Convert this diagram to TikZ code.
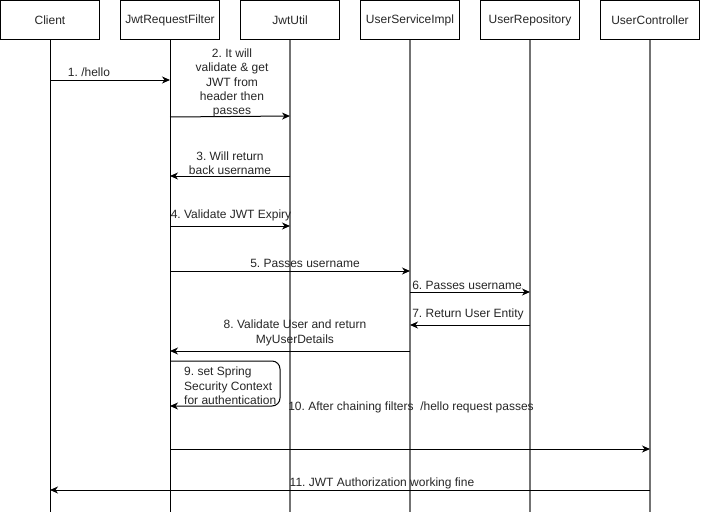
\documentclass[tikz,border=0pt]{standalone}
\usepackage{fontspec}
\setmainfont{Liberation Sans}
\usetikzlibrary{arrows.meta}
\frenchspacing
\begin{document}
\begin{tikzpicture}[x=1pt,y=-1pt,
  txt/.style={font=\fontsize{12}{14.4}\selectfont, text=black!85},
  actor/.style={txt, draw, line width=0.9pt, minimum width=99pt, minimum height=39pt, inner sep=0pt},
  lifeA/.style={line width=1pt, black},
  lifeB/.style={line width=1.2pt, black!55},
  msg/.style={line width=1pt, -{Stealth[length=8pt,width=7pt,inset=2.5pt]}},
  lbl/.style={txt, align=center, inner sep=0pt}
]
\useasboundingbox (0,0) rectangle (701,512);
% actors
\node[actor] (client) at (50,20) {Client};
\node[actor] (filter) at (170,20) {JwtRequestFilter};
\node[actor] (jwt)    at (290,20) {JwtUtil};
\node[actor] (svc)    at (410,20) {UserServiceImpl};
\node[actor] (repo)   at (530,20) {UserRepository};
\node[actor] (ctrl)   at (650,20) {UserController};
% lifelines
\coordinate (clientEnd) at (50,512);
\coordinate (filterEnd) at (170,512);
\coordinate (jwtEnd) at (290,512);
\coordinate (svcEnd) at (410,512);
\coordinate (repoEnd) at (530,512);
\coordinate (ctrlEnd) at (650,512);
\draw[lifeA] (client.south) -- (clientEnd);
\draw[lifeA] (filter.south) -- (filterEnd);
\draw[lifeB] (jwt.south) -- (jwtEnd);
\draw[lifeB] (svc.south) -- (svcEnd);
\draw[lifeB] (repo.south) -- (repoEnd);
\draw[lifeB] (ctrl.south) -- (ctrlEnd);
% 1
\draw[msg] (client |- 0,80) -- (filter |- 0,80);
\node[lbl] (l1) at (89,72) {1. /hello};
% 2
\draw[msg] (filter |- 0,117) -- (jwt |- 0,116);
\node[lbl] (l2) at (232,83) {2. It will\\validate \& get\\JWT from\\header then\\passes};
% 3
\draw[msg] (jwt |- 0,176) -- (filter |- 0,176);
\node[lbl] (l3) at (230,163) {3. Will return\\back username};
% 4
\draw[msg] (filter |- 0,226) -- (jwt |- 0,226);
\node[lbl] (l4) at (231,215) {4. Validate JWT Expiry};
% 5
\draw[msg] (filter |- 0,271) -- (svc |- 0,271);
\node[lbl] (l5) at (305,263) {5. Passes username};
% 6
\draw[msg] (svc |- 0,292) -- (repo |- 0,292);
\node[lbl] (l6) at (467,285) {6. Passes username};
% 7
\draw[msg] (repo |- 0,325) -- (svc |- 0,325);
\node[lbl] (l7) at (468,314) {7. Return User Entity};
% 8
\draw[msg] (svc |- 0,351) -- (filter |- 0,351);
\node[lbl] (l8) at (295,333) {8. Validate User and return\\MyUserDetails};
% 9 self
\draw[msg, rounded corners=8pt] (filter |- 0,361) -- (280,361) -- (280,406) -- (filter |- 0,406);
\node[lbl, align=left, anchor=west] (l9) at (184,386) {9. set Spring\\Security Context\\for authentication};
% 10
\draw[msg] (filter |- 0,449) -- (ctrl |- 0,449);
\node[lbl] (l10) at (411,407) {10. After chaining filters\ \ /hello request passes};
% 11
\draw[msg] (ctrl |- 0,490) -- (client |- 0,490);
\node[lbl] (l11) at (382,483) {11. JWT Authorization working fine};
\end{tikzpicture}
\end{document}
